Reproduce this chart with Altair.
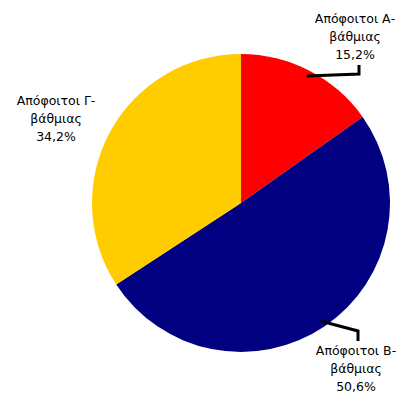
import math
import altair as alt
import pandas as pd

# ---- data ----
categories = ["Απόφοιτοι Α-βάθμιας", "Απόφοιτοι Β-βάθμιας", "Απόφοιτοι Γ-βάθμιας"]
label_heads = ["Απόφοιτοι Α-", "Απόφοιτοι Β-", "Απόφοιτοι Γ-"]
label_tails = ["βάθμιας", "βάθμιας", "βάθμιας"]
values = [15.2, 50.6, 34.2]
colors = ["#FF0000", "#000080", "#FFCC00"]

# ---- layout (pixels, chart coordinates) ----
CX, CY, R = 233, 195, 149
LEADER_R = 143
label_pos = [(347, 11), (348, 343), (48, 93)]
leader_elbows = [[(351, 66), (351, 57)], [(350, 323), (350, 333)], None]

total = sum(values)
rows, line_rows = [], []
cum = 0.0
for i, (c, v) in enumerate(zip(categories, values)):
    pct = f"{v / total * 100:.1f}".replace(".", ",") + "%"
    mid = (cum + v / 2) / total * 2 * math.pi
    cum += v
    rows.append({
        "cat": c, "value": v, "idx": i,
        "label": f"{label_heads[i]}\n{label_tails[i]}\n{pct}",
        "lx": label_pos[i][0], "ly": label_pos[i][1],
    })
    if leader_elbows[i]:
        pts = [(CX + LEADER_R * math.sin(mid), CY - LEADER_R * math.cos(mid))] + leader_elbows[i]
        for k, (px, py) in enumerate(pts):
            line_rows.append({"cat": c, "pt": k, "x": px, "y": py})

df = pd.DataFrame(rows)
ldf = pd.DataFrame(line_rows)

pie = alt.Chart(df).mark_arc(outerRadius=R, stroke=None).encode(
    theta=alt.Theta("value:Q", stack=True),
    color=alt.Color("cat:N", scale=alt.Scale(domain=categories, range=colors), legend=None),
    order=alt.Order("idx:Q"),
    x=alt.value(CX),
    y=alt.value(CY),
)

leaders = alt.Chart(ldf).mark_line(color="black", strokeWidth=3, strokeCap="butt").encode(
    x=alt.X("x:Q", scale=None, axis=None),
    y=alt.Y("y:Q", scale=None, axis=None),
    detail="cat:N",
    order="pt:Q",
)

labels = alt.Chart(df).mark_text(
    font="DejaVu Sans", fontSize=12.5, lineBreak="\n", lineHeight=18,
    align="center", baseline="middle", color="#000000",
).encode(
    x=alt.X("lx:Q", scale=None, axis=None),
    y=alt.Y("ly:Q", scale=None, axis=None),
    text="label:N",
)

chart = alt.layer(pie, leaders, labels).properties(
    width=391, height=385, padding=0,
    autosize=alt.AutoSizeParams(type="none"),
    background="white",
).configure_view(stroke=None)

chart.save("out.html", embed_options={"renderer": "svg", "actions": False})
